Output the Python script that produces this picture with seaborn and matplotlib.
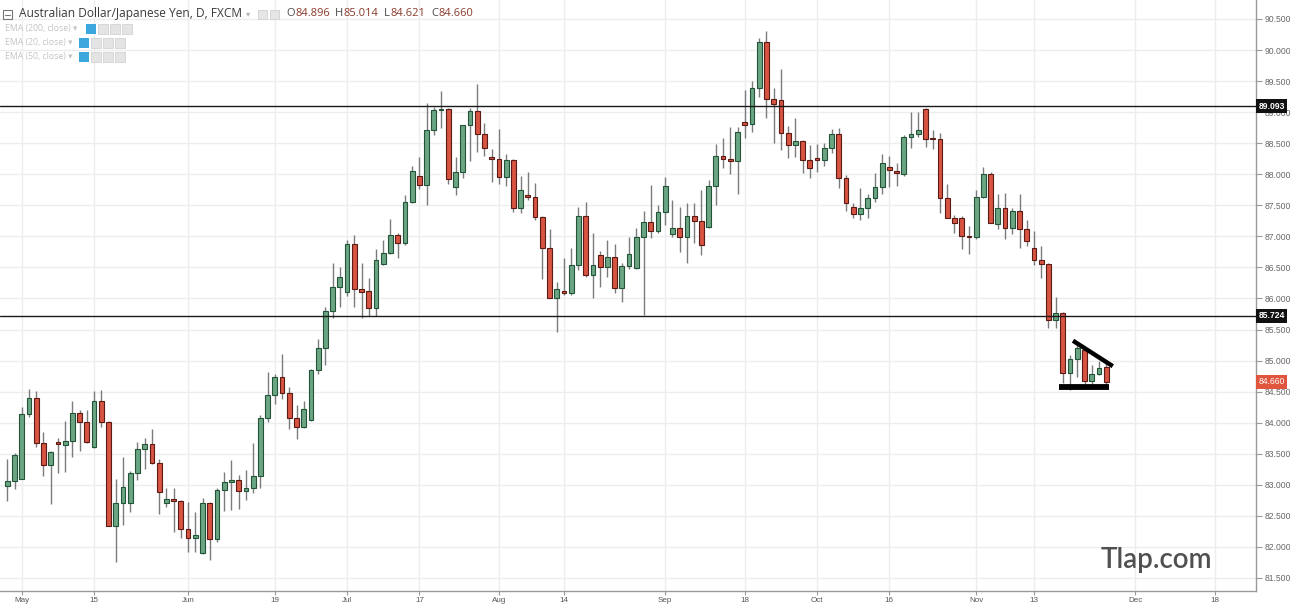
import numpy as np
import pandas as pd
import matplotlib
matplotlib.use("Agg")
import matplotlib.pyplot as plt
import seaborn as sns
from matplotlib.patches import Rectangle

# ---------------- data ----------------
start_date = "2017-04-27"
opens = [82.98, 83.06, 83.09, 84.14, 84.40, 83.67, 83.32, 83.69, 83.64, 83.71,
         84.16, 84.01, 83.61, 84.35, 84.01, 82.34, 82.71, 82.71, 83.19, 83.58,
         83.66, 83.35, 82.71, 82.77, 82.74, 82.29, 82.14, 81.90, 82.71, 82.13,
         82.92, 83.05, 83.07, 82.90, 82.95, 83.14, 84.08, 84.45, 84.74, 84.48,
         84.08, 83.93, 84.04, 84.85, 85.20, 85.80, 86.19, 86.10, 86.88, 86.15,
         86.12, 85.85, 86.56, 86.73, 87.02, 86.89, 87.55, 87.97, 87.83, 88.71,
         89.03, 89.05, 87.80, 88.04, 88.79, 89.02, 88.65, 88.28, 88.25, 87.96,
         88.23, 87.46, 87.67, 87.64, 87.31, 86.81, 86.01, 86.12, 86.09, 86.54,
         87.33, 86.38, 86.70, 86.51, 86.67, 86.17, 86.52, 86.49, 86.99, 87.23,
         87.09, 87.39, 87.04, 87.13, 86.99, 87.33, 87.25, 87.15, 87.81, 88.29,
         88.25, 88.21, 88.84, 88.81, 89.39, 90.13, 89.21, 89.20, 88.66, 88.47,
         88.54, 88.23, 88.26, 88.23, 88.42, 88.65, 87.94, 87.47, 87.36, 87.46,
         87.62, 87.80, 88.12, 88.05, 88.01, 88.60, 88.65, 89.05, 88.58, 88.57,
         87.62, 87.30, 87.30, 87.01, 86.99, 87.63, 88.00, 87.20, 87.46, 87.14,
         87.41, 87.12, 86.81, 86.62, 86.56, 85.65, 85.77, 84.80, 85.03, 85.17,
         84.67, 84.78, 84.896]
highs = [83.42, 83.51, 84.25, 84.54, 84.51, 83.85, 83.55, 83.75, 84.03, 84.35,
         84.20, 84.20, 84.51, 84.53, 84.03, 83.09, 83.45, 83.22, 83.69, 83.75,
         83.90, 83.42, 82.95, 82.95, 82.76, 82.72, 82.56, 82.79, 82.73, 82.95,
         83.21, 83.40, 83.16, 83.24, 83.67, 84.12, 84.82, 84.78, 85.11, 84.57,
         84.29, 84.35, 84.87, 85.35, 85.86, 86.57, 86.51, 86.94, 87.02, 86.57,
         86.33, 86.80, 86.94, 87.28, 87.06, 87.67, 88.13, 88.28, 89.15, 89.08,
         89.34, 89.07, 88.28, 88.80, 89.07, 89.45, 88.83, 88.41, 88.73, 88.33,
         88.24, 87.97, 88.04, 87.86, 87.33, 87.12, 86.27, 86.65, 86.81, 87.47,
         87.55, 87.05, 86.77, 86.94, 86.88, 86.57, 86.99, 87.14, 87.41, 87.83,
         87.51, 87.96, 87.59, 87.47, 87.54, 87.54, 87.75, 87.91, 88.49, 88.58,
         88.76, 88.76, 89.36, 89.50, 90.19, 90.31, 89.39, 89.70, 88.78, 88.91,
         88.55, 88.47, 88.49, 88.50, 88.73, 88.74, 87.99, 87.54, 87.78, 87.68,
         88.02, 88.33, 88.29, 88.18, 88.63, 89.00, 89.00, 89.07, 88.71, 88.67,
         87.84, 87.34, 87.33, 87.17, 87.75, 88.12, 88.04, 87.68, 87.70, 87.46,
         87.68, 87.26, 87.09, 86.85, 86.57, 86.02, 85.78, 85.09, 85.25, 85.18,
         84.93, 84.99, 85.014]
lows = [82.74, 82.93, 83.09, 84.09, 83.61, 83.14, 82.69, 83.19, 83.21, 83.45,
        83.55, 83.67, 83.60, 83.93, 82.33, 81.76, 82.35, 82.56, 83.08, 83.25,
        83.33, 82.53, 82.64, 82.24, 82.14, 81.92, 81.92, 81.88, 81.79, 82.08,
        82.58, 82.59, 82.61, 82.76, 82.87, 82.95, 84.01, 84.30, 84.38, 83.90,
        83.74, 83.91, 84.03, 84.78, 84.93, 85.69, 85.86, 86.04, 85.86, 85.69,
        85.72, 85.72, 86.54, 86.72, 86.65, 86.86, 87.54, 87.76, 87.51, 88.63,
        88.74, 87.84, 87.67, 87.94, 88.21, 88.36, 88.29, 87.88, 87.84, 87.81,
        87.39, 87.38, 87.59, 87.26, 86.31, 86.00, 85.46, 86.06, 86.06, 86.46,
        86.35, 86.01, 86.19, 86.35, 86.09, 85.94, 86.47, 86.47, 85.73, 86.97,
        87.05, 87.18, 86.99, 86.75, 86.57, 86.89, 86.70, 87.14, 87.51, 88.10,
        88.00, 87.68, 88.58, 88.68, 89.24, 88.91, 88.50, 88.39, 88.26, 88.28,
        88.02, 87.94, 88.04, 88.13, 88.34, 87.78, 87.41, 87.30, 87.26, 87.30,
        87.55, 87.68, 87.80, 87.81, 87.97, 88.42, 88.60, 88.44, 88.41, 87.38,
        87.29, 87.05, 86.80, 86.72, 86.96, 87.62, 87.21, 87.12, 86.96, 87.04,
        86.81, 86.85, 86.54, 86.33, 85.53, 85.53, 84.64, 84.53, 84.74, 84.62,
        84.62, 84.77, 84.621]
closes = [83.06, 83.48, 84.14, 84.40, 83.67, 83.32, 83.53, 83.66, 83.71, 84.16,
          84.01, 83.69, 84.35, 84.01, 82.34, 82.71, 82.97, 83.19, 83.58, 83.66,
          83.35, 82.88, 82.77, 82.74, 82.29, 82.14, 82.19, 82.71, 82.13, 82.92,
          83.05, 83.06, 82.90, 82.95, 83.14, 84.08, 84.45, 84.74, 84.48, 84.08,
          83.93, 84.22, 84.85, 85.20, 85.80, 86.19, 86.35, 86.88, 86.15, 86.10,
          85.85, 86.62, 86.73, 87.02, 86.89, 87.55, 88.05, 87.83, 88.71, 89.03,
          89.05, 87.92, 88.04, 88.79, 89.02, 88.65, 88.42, 88.25, 87.96, 88.23,
          87.46, 87.75, 87.64, 87.31, 86.81, 86.01, 86.15, 86.09, 86.54, 87.33,
          86.38, 86.54, 86.51, 86.67, 86.17, 86.52, 86.72, 86.99, 87.23, 87.09,
          87.39, 87.81, 87.13, 86.99, 87.33, 87.25, 86.86, 87.81, 88.29, 88.25,
          88.21, 88.68, 88.79, 89.39, 90.13, 89.21, 89.13, 88.66, 88.47, 88.54,
          88.23, 88.10, 88.23, 88.42, 88.65, 87.94, 87.54, 87.36, 87.46, 87.62,
          87.80, 88.18, 88.07, 88.02, 88.60, 88.65, 88.71, 88.57, 88.56, 87.62,
          87.30, 87.22, 87.01, 86.99, 87.63, 88.00, 87.22, 87.46, 87.14, 87.41,
          87.12, 86.93, 86.62, 86.56, 85.65, 85.77, 84.80, 85.03, 85.20, 84.67,
          84.78, 84.88, 84.660]

tick_dates = ["2017-05-01", "2017-05-15", "2017-06-01", "2017-06-19", "2017-07-03",
              "2017-07-17", "2017-08-01", "2017-08-14", "2017-09-01", "2017-09-18",
              "2017-10-02", "2017-10-16", "2017-11-01", "2017-11-13", "2017-12-01",
              "2017-12-18"]
tick_labels = ["May", "15", "Jun", "19", "Jul", "17", "Aug", "14", "Sep", "18",
               "Oct", "16", "Nov", "13", "Dec", "18"]
price_ticks = [81.5, 82.0, 82.5, 83.0, 83.5, 84.0, 84.5, 85.0, 85.5, 86.0,
               86.5, 87.0, 87.5, 88.0, 88.5, 89.0, 89.5, 90.0, 90.5]
level_lines = [89.093, 85.724]
last_price = 84.660

# hand-drawn trend lines (day index, price)
trend_down_x = [147.4, 152.9]
trend_down_y = [85.32, 84.91]
trend_flat_x = [145.5, 152.4]
trend_flat_y = [84.58, 84.58]

title = "Australian Dollar/Japanese Yen, D, FXCM"
ohlc_letters = ["O", "H", "L", "C"]
ohlc_values = ["84.896", "85.014", "84.621", "84.660"]
ema_labels = ["EMA (200, close)", "EMA (20, close)", "EMA (50, close)"]
watermark = "Tlap.com"

# ---------------- build ----------------
days = pd.bdate_range(start_date, periods=len(opens))
df = pd.DataFrame({"date": days, "open": opens, "high": highs,
                   "low": lows, "close": closes})
df["idx"] = np.arange(len(df))
df["up"] = df["close"] >= df["open"]
all_days = pd.bdate_range(start_date, periods=200)
tick_pos = all_days.get_indexer(pd.to_datetime(tick_dates))

sns.set_theme(style="white")
plt.rcParams["font.family"] = ["Liberation Sans", "DejaVu Sans"]

W, H = 1290, 606
fig = plt.figure(figsize=(W / 100, H / 100), dpi=100)
fig.patch.set_facecolor("white")
ax_left, ax_right, ax_top, ax_bottom = 0, 1256, 0, 591
ax = fig.add_axes([ax_left / W, 1 - ax_bottom / H, (ax_right - ax_left) / W,
                   (ax_bottom - ax_top) / H])
ax.set_facecolor("white")

px_per_day = 7.23
first_px = 7.3
ax.set_xlim(-first_px / px_per_day, (ax_right - first_px) / px_per_day)
ypx0, ppx = 19, 62.11   # y pixel of 90.5, pixels per price unit
ax.set_ylim(90.5 - (ax_bottom - ypx0) / ppx, 90.5 + ypx0 / ppx)

# grid
for p in price_ticks:
    ax.axhline(p, color="#ededed", lw=1, zorder=0)
for t in tick_pos:
    ax.axvline(t, color="#ededed", lw=1, zorder=0)

# wicks
ax.vlines(df["idx"], df["low"], df["high"], color="#7b7b7d", lw=1, zorder=2)

# bodies
up_fill, up_edge = "#6ba583", "#225437"
dn_fill, dn_edge = "#d75442", "#5b1a13"
body_w = 0.66
for _, r in df.iterrows():
    lo = min(r["open"], r["close"])
    h = max(abs(r["close"] - r["open"]), 0.02)
    fc, ec = (up_fill, up_edge) if r["up"] else (dn_fill, dn_edge)
    ax.add_patch(Rectangle((r["idx"] - body_w / 2, lo), body_w, h,
                           facecolor=fc, edgecolor=ec, lw=0.8, zorder=3))

# horizontal levels
for lv in level_lines:
    ax.axhline(lv, color="#1a1a1a", lw=1, zorder=4)

# trend lines
sns.lineplot(x=trend_down_x, y=trend_down_y, ax=ax, color="black", lw=3.2,
             zorder=5)
sns.lineplot(x=trend_flat_x, y=trend_flat_y, ax=ax, color="black", lw=4.2,
             zorder=5)
for ln in ax.lines[-2:]:
    ln.set_solid_capstyle("butt")

# axes styling
for s in ["top", "left"]:
    ax.spines[s].set_visible(False)
for s in ["right", "bottom"]:
    ax.spines[s].set_visible(True)
    ax.spines[s].set_color("#9a9a9a")
    ax.spines[s].set_linewidth(1)

ax.yaxis.tick_right()
ax.set_yticks(price_ticks)
ax.set_yticklabels([f"{p:.3f}" for p in price_ticks])
ax.tick_params(axis="y", which="both", right=True, length=4, width=0.8,
               color="#9a9a9a", labelsize=6.2, labelcolor="#666666", pad=2)
ax.set_xticks(tick_pos)
ax.set_xticklabels(tick_labels)
ax.tick_params(axis="x", which="both", bottom=True, length=3, width=0.8,
               color="#9a9a9a", labelsize=5.8, labelcolor="#555555", pad=1)
ax.set_xlabel("")
ax.set_ylabel("")

# price boxes on the right axis
ytr = ax.get_yaxis_transform()
for lv in level_lines:
    ax.text(1.0018, lv, f"{lv:.3f}", transform=ytr, ha="left", va="center",
            color="white", fontsize=6.2, fontweight="bold", zorder=10,
            clip_on=False,
            bbox=dict(boxstyle="square,pad=0.28", fc="#111111", ec="none"))
ax.text(1.0018, last_price, f"{last_price:.3f}", transform=ytr, ha="left",
        va="center", color="white", fontsize=6.2, zorder=10, clip_on=False,
        bbox=dict(boxstyle="square,pad=0.28", fc="#e0553e", ec="none"))

# header
def fx(px):
    return px / W

def fy(py):
    return 1 - py / H

fig.patches.append(Rectangle((fx(3), fy(19)), 9 / W, 9 / H, transform=fig.transFigure,
                             fill=False, ec="#777777", lw=0.8))
fig.lines.append(plt.Line2D([fx(5), fx(10)], [fy(14.5), fy(14.5)],
                            transform=fig.transFigure, color="#777777", lw=0.8))
fig.text(fx(19), fy(14), title, fontsize=8.6, color="#3a3a3a",
         family=["Open Sans", "DejaVu Sans"], va="center", ha="left")
fig.text(fx(246), fy(14), "▾", fontsize=6, color="#b0b0b0", va="center", ha="left",
         family=["DejaVu Sans"])
for xx in (258, 270):
    fig.patches.append(Rectangle((fx(xx), fy(19)), 9 / W, 9 / H,
                                 transform=fig.transFigure, fc="#e6e6e6",
                                 ec="#d0d0d0", lw=0.6))

renderer = fig.canvas.get_renderer()
xpos = 286.0
for letter, val in zip(ohlc_letters, ohlc_values):
    t1 = fig.text(fx(xpos), fy(14), letter, fontsize=8.0, color="#4a4a4a",
                  family=["Open Sans", "DejaVu Sans"], va="center", ha="left")
    w1 = t1.get_window_extent(renderer).width
    t2 = fig.text(fx(xpos + w1 + 0.5), fy(14), val, fontsize=8.0, color="#8a3b2c",
                  family=["Open Sans", "DejaVu Sans"], va="center", ha="left")
    w2 = t2.get_window_extent(renderer).width
    xpos += w1 + w2 + 6

for i, lab in enumerate(ema_labels):
    yy = 29 + 14 * i
    fig.text(fx(5), fy(yy), lab + " ▾", fontsize=6.2, color="#c4c4c4",
             family=["Open Sans", "DejaVu Sans"], va="center", ha="left")
    x0 = 86 if i == 0 else 79
    fig.patches.append(Rectangle((fx(x0), fy(yy + 5)), 10 / W, 10 / H,
                                 transform=fig.transFigure, fc="#3ca7dc",
                                 ec="none"))
    for k in range(1, 4):
        fig.patches.append(Rectangle((fx(x0 + 12 * k), fy(yy + 5)), 10 / W,
                                     10 / H, transform=fig.transFigure,
                                     fc="#e4e4e4", ec="#d2d2d2", lw=0.6))

# watermark
fig.text(fx(1101), fy(568), watermark, fontsize=20, color="#505050",
         fontweight="semibold", family=["Lato", "DejaVu Sans"], ha="left",
         va="baseline")

fig.savefig("out.png", dpi=100, facecolor="white")
